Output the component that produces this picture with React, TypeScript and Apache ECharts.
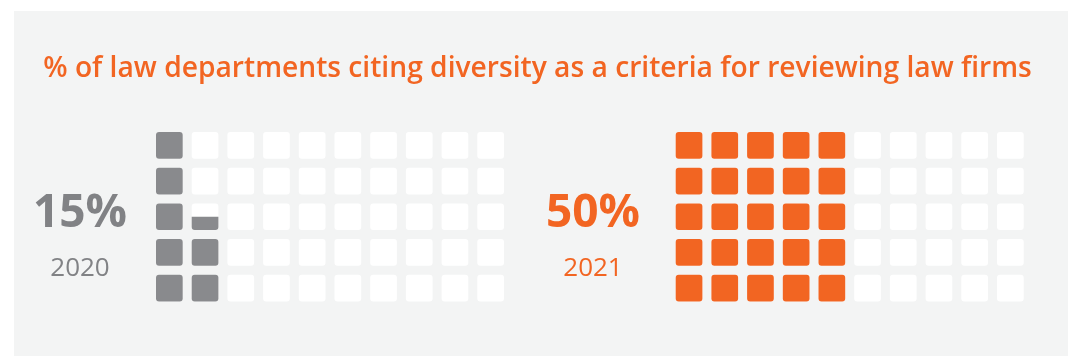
import React, { useEffect, useRef } from "react";
import * as echarts from "echarts";

const titleText = "% of law departments citing diversity as a criteria for reviewing law firms";
const years = ["2020", "2021"];
const percents = [15, 50];
const fillColors = ["#898a8d", "#f26522"];
const labelColors = ["#818285", "#f26522"];
const COLS = 10;
const ROWS = 5;
const PCT_PER_CELL = 2;

function buildCells(pct: number) {
  const filled = pct / PCT_PER_CELL;
  const out: number[][] = [];
  for (let c = 0; c < COLS; c++) {
    for (let r = 0; r < ROWS; r++) {
      const idx = c * ROWS + r;
      const f = Math.max(0, Math.min(1, filled - idx));
      out.push([c, r, f]);
    }
  }
  return out;
}

export default function App() {
  const ref = useRef<HTMLDivElement>(null);
  useEffect(() => {
    const chart = echarts.init(ref.current!, null, { renderer: "svg" });
    const gridLefts = [151.5, 671.2];
    const labelCenters = [80, 593];
    const grids = gridLefts.map((l) => ({ left: l, top: 127.5, width: 357, height: 178.5 }));
    const series = percents.map((p, i) => ({
      type: "custom",
      xAxisIndex: i,
      yAxisIndex: i,
      data: buildCells(p),
      renderItem: (params: any, api: any) => {
        const c = api.value(0);
        const r = api.value(1);
        const f = api.value(2);
        const center = api.coord([c + 0.5, r + 0.5]);
        const size = api.size([1, 1]);
        const w = size[0] * 0.748;
        const h = size[1] * 0.748;
        const x = center[0] - w / 2;
        const y = center[1] - h / 2;
        const children: any[] = [
          { type: "rect", shape: { x, y, width: w, height: h, r: 3 }, style: { fill: "#ffffff" } },
        ];
        if (f > 0) {
          children.push({
            type: "rect",
            shape: { x, y: y + h * (1 - f), width: w, height: h * f, r: f < 1 ? [0, 0, 3, 3] : 3 },
            style: { fill: fillColors[i] },
          });
        }
        return { type: "group", children };
      },
    }));
    const texts: any[] = [];
    percents.forEach((p, i) => {
      texts.push({
        type: "text",
        x: labelCenters[i],
        y: 209,
        style: {
          text: p + "%",
          font: "bold 46px 'Open Sans'",
          fill: labelColors[i],
          align: "center",
          verticalAlign: "middle",
        },
      });
      texts.push({
        type: "text",
        x: labelCenters[i],
        y: 266,
        style: {
          text: years[i],
          font: "500 26px 'Open Sans'",
          fill: labelColors[i],
          align: "center",
          verticalAlign: "middle",
        },
      });
    });
    chart.setOption({
      animation: false,
      grid: grids,
      xAxis: grids.map((_, i) => ({ type: "value", min: 0, max: COLS, show: false, gridIndex: i })),
      yAxis: grids.map((_, i) => ({ type: "value", min: 0, max: ROWS, show: false, gridIndex: i })),
      graphic: [
        { type: "rect", z: -10, shape: { x: 14, y: 11, width: 1054, height: 345 }, style: { fill: "#f3f4f4" } },
        {
          type: "text",
          x: 537.5,
          y: 66,
          style: {
            text: titleText,
            font: "600 28.2px 'Open Sans'",
            fill: "#f26522",
            align: "center",
            verticalAlign: "middle",
          },
        },
        ...texts,
      ],
      series,
    });
    return () => chart.dispose();
  }, []);
  return <div ref={ref} style={{ position: "fixed", left: 0, top: 0, width: 1068, height: 356 }} />;
}
